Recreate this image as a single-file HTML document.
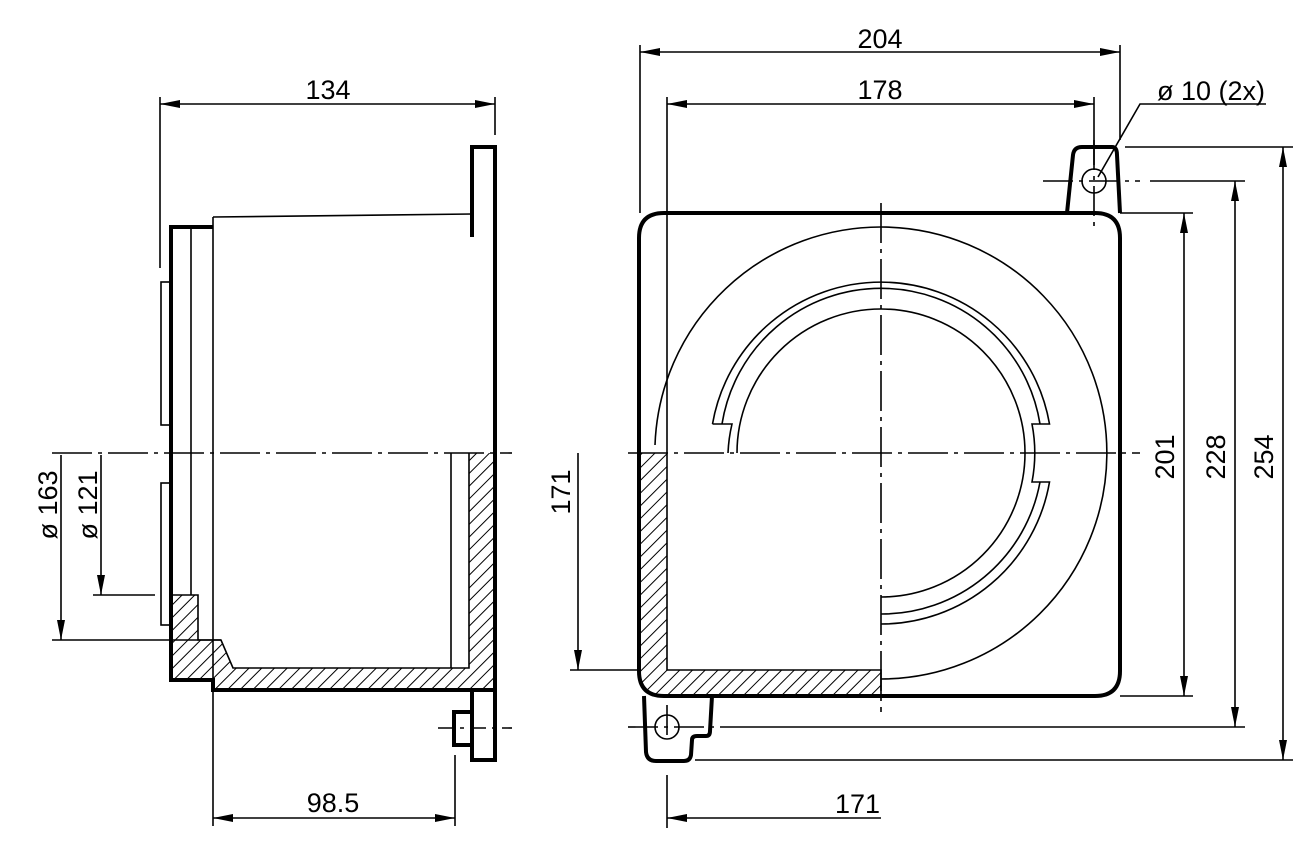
<!DOCTYPE html>
<html><head><meta charset="utf-8"><style>
html,body{margin:0;padding:0;background:#fff;}
svg{display:block;}
text{font-family:"Liberation Sans",Arial,sans-serif;font-size:27px;fill:#000;}
</style></head><body>
<svg width="1311" height="850" viewBox="0 0 1311 850" xmlns="http://www.w3.org/2000/svg">
<defs>
<pattern id="h" patternUnits="userSpaceOnUse" width="9" height="9" patternTransform="rotate(45)">
<line x1="0" y1="0" x2="0" y2="9" stroke="#000" stroke-width="2"/>
</pattern>
<marker id="a" viewBox="0 0 20 8" refX="20" refY="4" markerWidth="20" markerHeight="8" markerUnits="userSpaceOnUse" orient="auto-start-reverse">
<path d="M0,0 L20,4 L0,8 z" fill="#000"/>
</marker>
</defs>
<g fill="none" stroke="#000" stroke-width="1.6">
<!-- ===== LEFT VIEW ===== -->
<path d="M469,453 L495,453 L495,690 L213,690 L213,680 L171,680 L171,595 L198,595 L198,640 L221,640 L233,668 L469,668 Z" fill="url(#h)" stroke="none"/>
<path d="M469,453 L469,668 L233,668 L221,640 L198,640 L198,595 L171,595" />
<line x1="171" y1="640" x2="221" y2="640"/>
<line x1="213" y1="640" x2="213" y2="690"/>
<path d="M213,227 L171,227 L171,680 L213,680 L213,690 L495,690" stroke-width="4"/>
<path d="M472,237 L472,147 L495,147 L495,760 L472,760 L472,690" stroke-width="4"/>
<path d="M472,712 L454,712 L454,745 L472,745" stroke-width="4"/>
<line x1="191" y1="227" x2="191" y2="595"/>
<line x1="213" y1="217" x2="213" y2="640"/>
<line x1="213" y1="217" x2="472" y2="214"/>
<line x1="451" y1="453" x2="451" y2="668"/>
<rect x="161" y="282" width="10" height="143"/>
<rect x="161" y="483" width="10" height="142"/>
<line x1="52" y1="453" x2="512" y2="453" stroke-dasharray="40,6,4,6"/>
<line x1="438" y1="728" x2="512" y2="728" stroke-dasharray="16,6,4,6"/>
<line x1="160" y1="97" x2="160" y2="268"/>
<line x1="495" y1="97" x2="495" y2="135"/>
<line x1="160" y1="104" x2="495" y2="104" marker-start="url(#a)" marker-end="url(#a)"/>
<line x1="61" y1="455" x2="61" y2="640" marker-end="url(#a)"/>
<line x1="52" y1="640" x2="171" y2="640"/>
<line x1="101" y1="455" x2="101" y2="595" marker-end="url(#a)"/>
<line x1="93" y1="595" x2="155" y2="595"/>
<line x1="213" y1="690" x2="213" y2="826"/>
<line x1="455" y1="755" x2="455" y2="826"/>
<line x1="213" y1="818" x2="455" y2="818" marker-start="url(#a)" marker-end="url(#a)"/>

<!-- ===== RIGHT VIEW ===== -->
<path d="M639,453 L667,453 L667,670 L881,670 L881,696 L664,696 Q639,696 639,671 Z" fill="url(#h)" stroke="none"/>
<path d="M667,453 L667,670 L881,670 L881,696"/>
<path d="M639,453 L639,238 Q639,213 664,213 L1095,213 Q1120,213 1120,238 L1120,671 Q1120,696 1095,696 L664,696 Q639,696 639,671 Z" stroke-width="4"/>
<path d="M1067,213 L1073,155 Q1074,147 1082,147 L1112,147 Q1117,147 1117,155 L1120,213" stroke-width="4"/>
<path d="M644,696 L646,752 Q647,761 656,761 L684,761 Q690,761 691,755 L692,740 Q692,736 697,736 L706,736 Q710,736 710,731 L712,696" stroke-width="4"/>
<circle cx="1094" cy="181" r="12"/>
<circle cx="667" cy="727" r="12"/>
<path d="M655,445 A226,226 0 1 1 881,679"/>
<path d="M712.5,424 A171,171 0 0 1 1049.5,424 L1032,424 A153,153 0 0 1 1032,482 L1049.5,482 A171,171 0 0 1 881,624"/>
<path d="M712.5,424 L732,424 A153,153 0 0 0 728,453"/>
<path d="M722,424 A161,161 0 0 1 1040,424"/>
<path d="M1040,482 A161,161 0 0 1 881,614"/>
<path d="M737,453 A144,144 0 1 1 881,597"/>
<line x1="628" y1="453" x2="1140" y2="453" stroke-dasharray="40,6,4,6"/>
<line x1="881" y1="203" x2="881" y2="712" stroke-dasharray="40,6,4,6"/>
<line x1="1043" y1="181" x2="1140" y2="181" stroke-dasharray="30,6,4,6"/>
<line x1="1094" y1="140" x2="1094" y2="228" stroke-dasharray="30,6,4,6"/>
<line x1="628" y1="727" x2="735" y2="727" stroke-dasharray="30,6,4,6"/>
<line x1="667" y1="705" x2="667" y2="740" stroke-dasharray="30,6,4,6"/>
<line x1="667" y1="775" x2="667" y2="828"/>
<line x1="640" y1="45" x2="640" y2="213"/>
<line x1="1120" y1="45" x2="1120" y2="140"/>
<line x1="640" y1="52" x2="1120" y2="52" marker-start="url(#a)" marker-end="url(#a)"/>
<line x1="667" y1="97" x2="667" y2="453"/>
<line x1="1094" y1="97" x2="1094" y2="165"/>
<line x1="667" y1="104" x2="1094" y2="104" marker-start="url(#a)" marker-end="url(#a)"/>
<polyline points="1098,177 1140,104 1266,104"/>
<line x1="1120" y1="213" x2="1193" y2="213"/>
<line x1="1120" y1="696" x2="1193" y2="696"/>
<line x1="1184" y1="213" x2="1184" y2="696" marker-start="url(#a)" marker-end="url(#a)"/>
<line x1="1150" y1="181" x2="1245" y2="181"/>
<line x1="735" y1="727" x2="1245" y2="727"/>
<line x1="1235" y1="181" x2="1235" y2="727" marker-start="url(#a)" marker-end="url(#a)"/>
<line x1="1125" y1="147" x2="1293" y2="147"/>
<line x1="695" y1="760" x2="1293" y2="760"/>
<line x1="1283" y1="147" x2="1283" y2="760" marker-start="url(#a)" marker-end="url(#a)"/>
<line x1="578" y1="453" x2="578" y2="670" marker-end="url(#a)"/>
<line x1="570" y1="670" x2="639" y2="670"/>
<line x1="881" y1="818" x2="667" y2="818" marker-end="url(#a)"/>
</g>
<text x="328" y="99" text-anchor="middle">134</text>
<text x="333" y="812" text-anchor="middle">98.5</text>
<text transform="translate(57,505) rotate(-90)" text-anchor="middle">ø 163</text>
<text transform="translate(97,505) rotate(-90)" text-anchor="middle">ø 121</text>
<text x="880" y="48" text-anchor="middle">204</text>
<text x="880" y="99" text-anchor="middle">178</text>
<text x="1211" y="100" text-anchor="middle">ø 10 (2x)</text>
<text transform="translate(1174,457) rotate(-90)" text-anchor="middle">201</text>
<text transform="translate(1225,457) rotate(-90)" text-anchor="middle">228</text>
<text transform="translate(1273,457) rotate(-90)" text-anchor="middle">254</text>
<text transform="translate(570,492) rotate(-90)" text-anchor="middle">171</text>
<text x="880" y="813" text-anchor="end">171</text>
</svg>
</body></html>
